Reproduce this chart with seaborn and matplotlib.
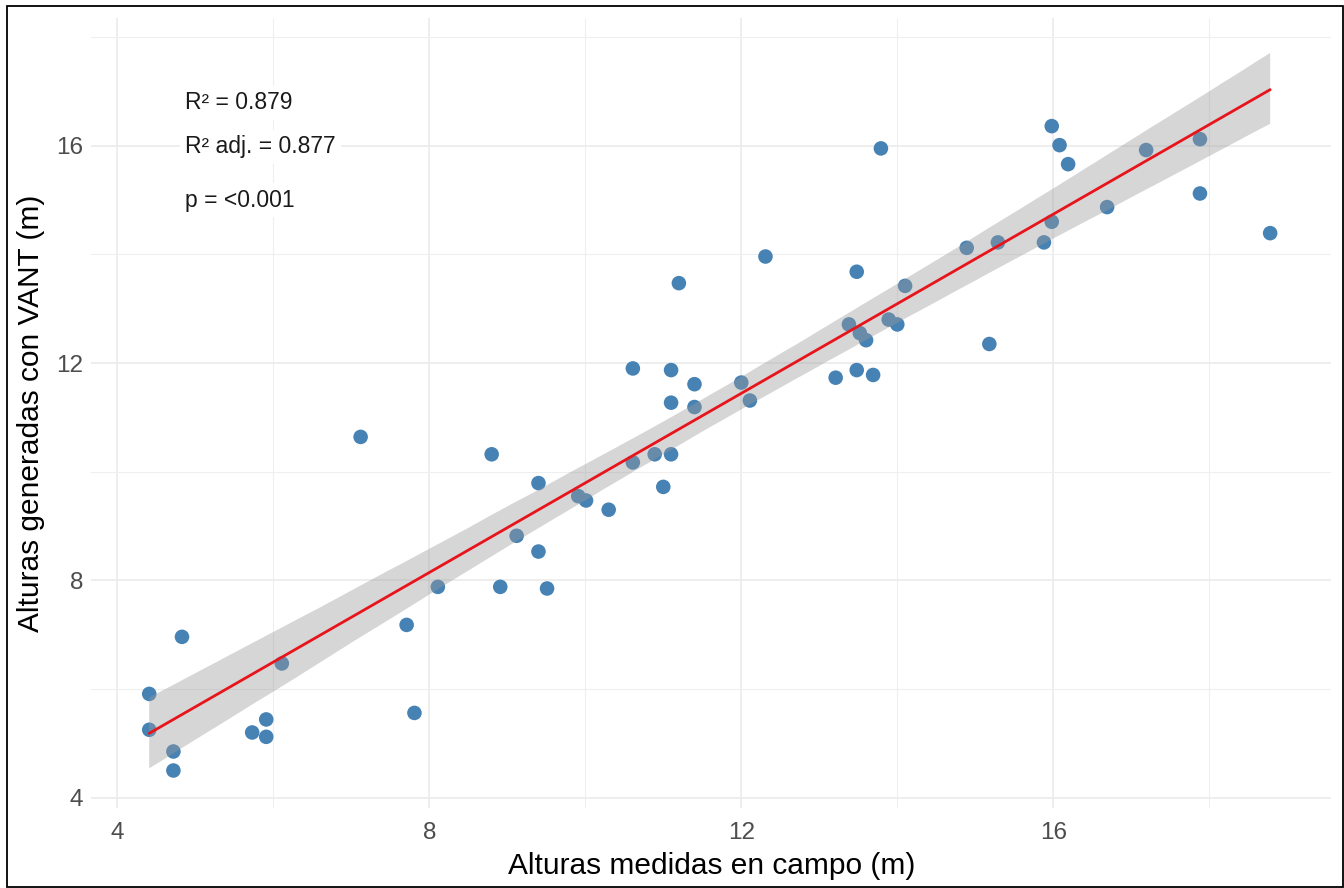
import numpy as np
import pandas as pd
import matplotlib
matplotlib.use("Agg")
import matplotlib.pyplot as plt
from matplotlib.patches import Rectangle
import seaborn as sns

# Field-measured heights (x) and UAV-derived heights (y), in metres
campo = [4.83, 4.41, 4.41, 4.72, 4.72, 5.73, 5.91, 5.91, 6.11, 7.71,
         7.81, 8.11, 7.12, 8.80, 9.40, 9.91, 10.01, 10.30, 9.12, 9.40,
         8.91, 9.51, 10.61, 10.89, 11.10, 11.00, 11.10, 11.40, 11.20, 12.31,
         10.61, 11.10, 11.40, 12.00, 12.11, 13.48, 14.10, 13.38, 13.52, 13.60,
         13.89, 14.00, 13.21, 13.48, 13.69, 13.79, 14.89, 15.29, 15.18, 15.98,
         16.08, 16.19, 15.98, 15.88, 16.69, 17.19, 17.88, 17.88, 18.78]
vant = [6.96, 5.91, 5.25, 4.85, 4.50, 5.20, 5.44, 5.12, 6.47, 7.18,
        5.56, 7.88, 10.64, 10.32, 9.79, 9.55, 9.47, 9.30, 8.82, 8.53,
        7.88, 7.85, 10.17, 10.32, 10.32, 9.72, 11.27, 11.19, 13.47, 13.96,
        11.90, 11.87, 11.61, 11.64, 11.31, 13.68, 13.42, 12.71, 12.55, 12.42,
        12.80, 12.71, 11.73, 11.87, 11.78, 15.95, 14.12, 14.22, 12.35, 16.36,
        16.01, 15.66, 14.60, 14.22, 14.87, 15.92, 16.12, 15.12, 14.39]

stats_labels = ["R² = 0.879", "R² adj. = 0.877", "p = <0.001"]
stats_y = [16.79, 15.98, 15.0]
stats_x = 4.87

major_ticks = [4, 8, 12, 16]
minor_ticks = [6, 10, 14, 18]

df = pd.DataFrame({"campo": campo, "vant": vant})

sns.set_theme(style="white")
plt.rcParams["font.family"] = ["Liberation Sans", "DejaVu Sans"]

fig = plt.figure(figsize=(13.44, 8.88), dpi=100)
ax = fig.add_axes([91.5 / 1344, 1 - 808 / 888, (1331 - 91.5) / 1344, (808 - 18) / 888])

sns.regplot(data=df, x="campo", y="vant", ax=ax, ci=95, n_boot=2000, seed=7,
            scatter_kws=dict(s=110, color="#4682B4", edgecolor="none", alpha=1, zorder=1),
            line_kws=dict(color="#E8141B", lw=2.0, zorder=3))

# make the confidence band grey, drawn above points like ggplot
for coll in ax.collections[1:]:
    coll.set_facecolor("#999999")
    coll.set_alpha(0.4)
    coll.set_edgecolor("none")
    coll.set_zorder(2)

ax.set_xlim(3.67, 19.56)
ax.set_ylim(3.81, 18.35)
ax.set_xticks(major_ticks)
ax.set_xticks(minor_ticks, minor=True)
ax.set_yticks(major_ticks)
ax.set_yticks(minor_ticks, minor=True)
ax.grid(which="major", color="#EBEBEB", lw=1.2, zorder=0)
ax.grid(which="minor", color="#EFEFEF", lw=0.8, zorder=0)
ax.set_axisbelow(True)
for s in ax.spines.values():
    s.set_visible(False)

ax.tick_params(axis="x", which="both", length=0, pad=10, labelsize=17.5, labelcolor="#4D4D4D")
ax.tick_params(axis="y", which="both", length=0, pad=6, labelsize=17.5, labelcolor="#4D4D4D")

ax.set_xlabel("Alturas medidas en campo (m)", fontsize=21.5, color="black", labelpad=6)
ax.set_ylabel("Alturas generadas con VANT (m)", fontsize=21.5, color="black", labelpad=8)

for lab, yy in zip(stats_labels, stats_y):
    ax.text(stats_x, yy, lab, ha="left", va="center", fontsize=16.5, color="#1A1A1A",
            zorder=5, bbox=dict(facecolor="white", edgecolor="none", pad=4))

fig.patches.append(Rectangle((6.5 / 1344, 1 / 888), (1343 - 6.5) / 1344, (887 - 6) / 888,
                             transform=fig.transFigure, fill=False, edgecolor="black", lw=1.3))

fig.savefig("out.png", dpi=100)
